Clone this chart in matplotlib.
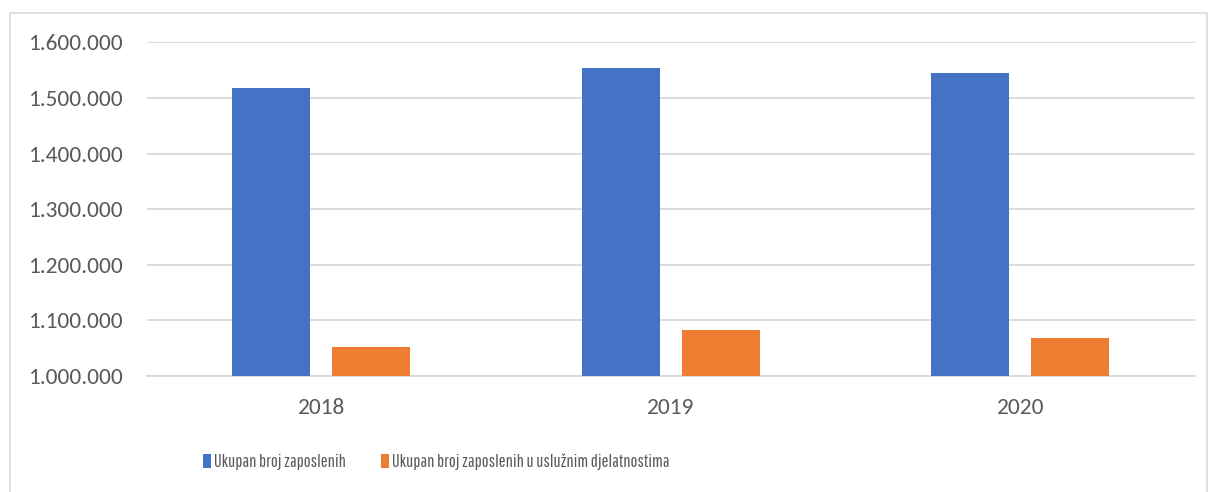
import matplotlib
matplotlib.use("Agg")
import matplotlib.pyplot as plt
import numpy as np
from matplotlib.patches import Rectangle
from matplotlib.ticker import FuncFormatter
from matplotlib import font_manager as fm

years = ["2018", "2019", "2020"]
ukupno = [1517000, 1554000, 1544000]
usluzne = [1053000, 1083000, 1068000]
series_names = ["Ukupan broj zaposlenih", "Ukupan broj zaposlenih u uslužnim djelatnostima"]
y_ticks = [1000000, 1100000, 1200000, 1300000, 1400000, 1500000, 1600000]

available = {f.name for f in fm.fontManager.ttflist}

def pick(cands, default):
    for c in cands:
        if c in available:
            return c
    return default

tick_font = pick(['Carlito', 'Lato'], 'DejaVu Sans')

plt.rcParams['font.family'] = [tick_font, 'DejaVu Sans']
text_color = '#595959'

fig = plt.figure(figsize=(12.11, 4.92), dpi=100)
renderer = fig.canvas.get_renderer()

def width_px(s, family, size):
    t = fig.text(0, 0, s, family=[family, 'DejaVu Sans'], fontsize=size)
    w = t.get_window_extent(renderer).width
    t.remove()
    return w

# choose a condensed family whose width at the reference cap height is near the reference width
leg_cands = ['Fira Sans Extra Condensed', 'Sofia Sans Extra Condensed', 'Saira Extra Condensed',
             'Encode Sans Compressed', 'Barlow Condensed', 'Sofia Sans Condensed', 'Saira Condensed',
             'Open Sans Condensed', 'Fira Sans Condensed', 'IBM Plex Sans Condensed', 'Pathway Gothic One',
             'Ubuntu Condensed', 'Pragati Narrow', 'Roboto Condensed', 'Archivo Narrow', 'PT Sans Narrow',
             'Asap Condensed']
target_w, ref_size = 277, 13.7
best, best_err = 'Roboto Condensed' if 'Roboto Condensed' in available else tick_font, 1e9
for c in leg_cands:
    if c in available:
        try:
            err = abs(width_px(series_names[1], c, ref_size) - target_w)
        except Exception:
            continue
        if err < best_err - 8:
            best, best_err = c, err
leg_font = best
leg_size = 12 * target_w / width_px(series_names[1], leg_font, 12)

# tick font size: fit "1.600.000" to ~95 px
tick_size = 14 * 95 / width_px("1.600.000", tick_font, 14)

L, R, T, B = 146.5, 1195, 42.3, 376
ax = fig.add_axes([L/1211, 1-B/492, (R-L)/1211, (B-T)/492])

x = np.arange(len(years))
w = 0.223
off = 0.285
ax.bar(x - off/2, ukupno, w, color='#4472C4', label=series_names[0], zorder=3)
ax.bar(x + off/2, usluzne, w, color='#ED7D31', label=series_names[1], zorder=3)

ax.set_xlim(-0.5, 2.5)
ax.set_ylim(1000000, 1600000)
ax.set_yticks(y_ticks)
ax.yaxis.set_major_formatter(FuncFormatter(lambda v, p: f"{int(v):,}".replace(",", ".")))
ax.set_xticks(x)
ax.set_xticklabels(years)
ax.grid(axis='y', color='#d9d9d9', linewidth=1.3, zorder=0)
for s in ['top', 'right', 'left']:
    ax.spines[s].set_visible(False)
ax.spines['bottom'].set_color('#d9d9d9')
ax.spines['bottom'].set_linewidth(1.3)
ax.tick_params(axis='both', length=0, labelsize=tick_size, colors=text_color)
ax.tick_params(axis='y', pad=17)
ax.tick_params(axis='x', pad=16)

em = leg_size * 100 / 72
leg = fig.legend(loc='center', bbox_to_anchor=(436/1211, 1-462/492), ncol=2, frameon=False,
                 prop={'family': [leg_font, 'DejaVu Sans'], 'size': leg_size},
                 handlelength=8/em, handleheight=14/em, handletextpad=3/em,
                 columnspacing=35/em, labelcolor=text_color)

fig.patches.append(Rectangle((10/1211, -0.05), 1197/1211, 1-13/492+0.05, transform=fig.transFigure,
                             fill=False, edgecolor='#d9d9d9', linewidth=1.2))

fig.savefig("out.png", dpi=100)
